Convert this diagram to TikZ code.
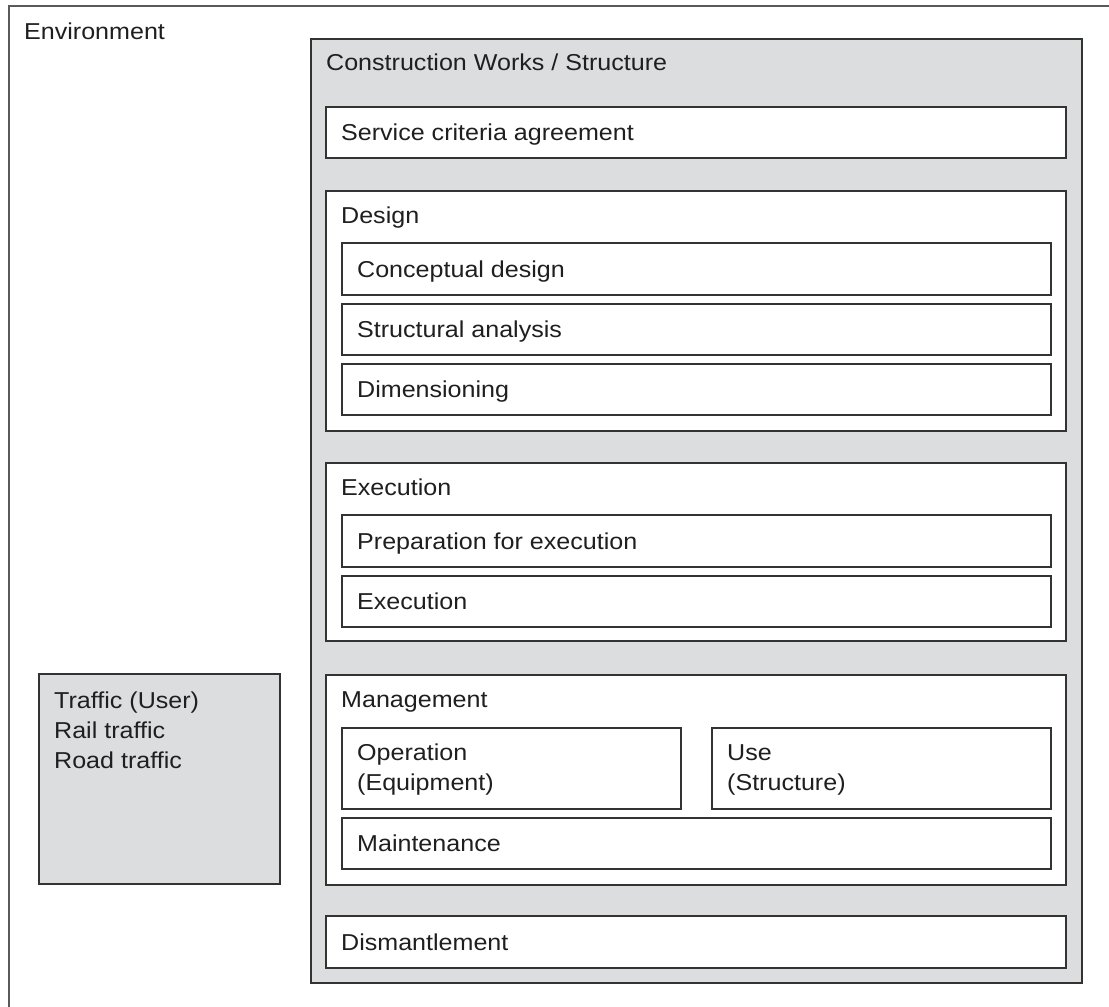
\documentclass[tikz,border=0pt]{standalone}
\usepackage{fontspec}
\setmainfont{Liberation Sans}[FakeStretch=1.09]
\definecolor{panel}{HTML}{DCDDDF}
\definecolor{edge}{HTML}{333333}
\definecolor{envedge}{HTML}{5A5A5A}
\newcommand{\bx}[6]{\node[box,fill=#6,minimum width={(#4-#2)*1pt},minimum height={(#5-#3)*1pt}] (#1) at ({(#2+#4)/2},{(#3+#5)/2}) {};}
\begin{document}
\begin{tikzpicture}[x=1pt,y=-1pt,
  box/.style={draw=edge,line width=1.3pt,inner sep=0pt,outer sep=0pt,rectangle},
  lbl/.style={anchor=base west,inner sep=0pt,font=\fontsize{23}{30}\selectfont,text=black!88,align=left}]
\useasboundingbox (0,0) rectangle (1109,1007);
\clip (0,0) rectangle (1109,1007);
\fill[white] (0,0) rectangle (1109,1007);
% environment
\node[box,draw=envedge,line width=1.5pt,minimum width=1120pt,minimum height=1030pt,anchor=north west] (env) at (9,6) {};
\node[lbl] (envl) at ([xshift=15pt,yshift=-33pt]env.north west) {Environment};
% traffic
\bx{traffic}{39}{674}{280}{884}{panel}
\node[lbl] (trafficl) at ([xshift=15pt,yshift=-94pt]traffic.north west) {Traffic (User)\\Rail traffic\\Road traffic};
% construction works
\node[box,line width=1.7pt,fill=panel,minimum width=771pt,minimum height=944pt] (cws) at ({(311+1082)/2},{(39+983)/2}) {};
\node[lbl] (cwsl) at ([xshift=15pt,yshift=-31pt]cws.north west) {Construction Works / Structure};
% service criteria
\bx{svc}{326}{107}{1066}{158}{white}
\node[lbl] (svcl) at ([xshift=15pt,yshift=-8pt]svc.west) {Service criteria agreement};
% design
\bx{design}{326}{191}{1066}{431}{white}
\node[lbl] (designl) at ([xshift=15pt,yshift=-32pt]design.north west) {Design};
\bx{concept}{342}{243}{1051}{295}{white}
\node[lbl] (conceptl) at ([xshift=15pt,yshift=-8pt]concept.west) {Conceptual design};
\bx{struct}{342}{304}{1051}{355}{white}
\node[lbl] (structl) at ([xshift=15pt,yshift=-8pt]struct.west) {Structural analysis};
\bx{dim}{342}{364}{1051}{415}{white}
\node[lbl] (diml) at ([xshift=15pt,yshift=-8pt]dim.west) {Dimensioning};
% execution
\bx{exec}{326}{463}{1066}{641}{white}
\node[lbl] (execl) at ([xshift=15pt,yshift=-32pt]exec.north west) {Execution};
\bx{prep}{342}{515}{1051}{567}{white}
\node[lbl] (prepl) at ([xshift=15pt,yshift=-8pt]prep.west) {Preparation for execution};
\bx{execi}{342}{576}{1051}{627}{white}
\node[lbl] (execil) at ([xshift=15pt,yshift=-8pt]execi.west) {Execution};
% management
\bx{mgmt}{326}{675}{1066}{885}{white}
\node[lbl] (mgmtl) at ([xshift=15pt,yshift=-32pt]mgmt.north west) {Management};
\bx{oper}{342}{728}{681}{809}{white}
\node[lbl] (operl) at ([xshift=15pt,yshift=-62pt]oper.north west) {Operation\\(Equipment)};
\bx{use}{712}{728}{1051}{809}{white}
\node[lbl] (usel) at ([xshift=15pt,yshift=-62pt]use.north west) {Use\\(Structure)};
\bx{maint}{342}{818}{1051}{869}{white}
\node[lbl] (maintl) at ([xshift=15pt,yshift=-8pt]maint.west) {Maintenance};
% dismantlement
\bx{dism}{326}{916}{1066}{968}{white}
\node[lbl] (disml) at ([xshift=15pt,yshift=-8pt]dism.west) {Dismantlement};
\end{tikzpicture}
\end{document}
